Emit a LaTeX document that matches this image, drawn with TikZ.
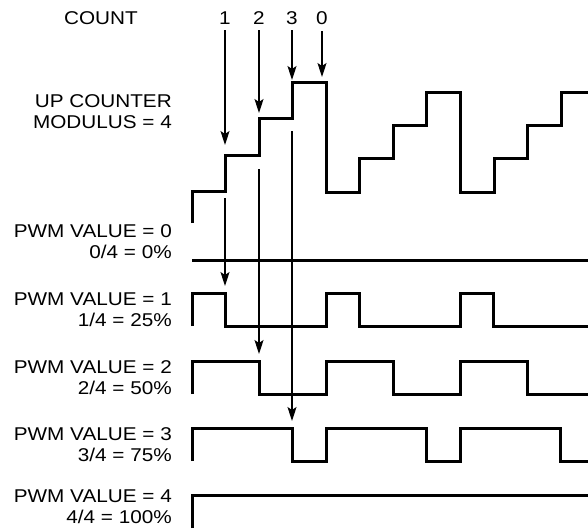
\documentclass[tikz,border=0pt]{standalone}
\usepackage{fontspec}
\setmainfont{Liberation Sans}[FakeStretch=1.12]
\usetikzlibrary{arrows.meta}
\tikzset{
  wave/.style={line width=3pt},
  cntarrow/.style={line width=1.3pt, -{Stealth[length=14pt,width=9pt,inset=3pt]}},
  lbl/.style={anchor=base east, align=right, inner sep=0pt, font=\fontsize{18.5}{21}\selectfont},
  cnt/.style={anchor=base, inner sep=0pt, font=\fontsize{18.5}{21}\selectfont},
}
\begin{document}
\begin{tikzpicture}[x=1pt,y=-1pt]
    \useasboundingbox (0,0) rectangle (588,528);
    % Labels on the left
    \node[cnt] (count) at (101,24) {COUNT};
    \node[lbl] (upcnt) at (172,128) {UP COUNTER\\MODULUS = 4};
    \node[lbl] (pwm0) at (172,258) {PWM VALUE = 0\\0/4 = 0\%};
    \node[lbl] (pwm1) at (172,326) {PWM VALUE = 1\\1/4 = 25\%};
    \node[lbl] (pwm2) at (172,394) {PWM VALUE = 2\\2/4 = 50\%};
    \node[lbl] (pwm3) at (172,461) {PWM VALUE = 3\\3/4 = 75\%};
    \node[lbl] (pwm4) at (172,523) {PWM VALUE = 4\\4/4 = 100\%};
    % Count values
    \node[cnt] (c1) at (225,24) {1};
    \node[cnt] (c2) at (259,24) {2};
    \node[cnt] (c3) at (292,24) {3};
    \node[cnt] (c0) at (322,24) {0};
    % Up counter staircase
    \draw[wave] (192,223) -- (192,191) -- (225,191) -- (225,155) -- (259,155)
        -- (259,118) -- (292,118) -- (292,82) -- (326,82) -- (326,192)
        -- (359,192) -- (359,158) -- (393,158) -- (393,125) -- (426,125)
        -- (426,92) -- (460,92) -- (460,192) -- (494,192) -- (494,158)
        -- (527,158) -- (527,125) -- (561,125) -- (561,92) -- (588,92);
    % PWM outputs
    \draw[wave] (192,260) -- (588,260);
    \foreach \k/\lo in {1/326, 2/394, 3/461} {
        \draw[wave] (192,\lo)
            \foreach \p in {0,1,2} {
                -- ({192+134*\p},\lo) -- ({192+134*\p},\lo-33)
                -- ({192+134*\p+33.5*\k},\lo-33) -- ({192+134*\p+33.5*\k},\lo)
            } -- (588,\lo);
    }
    \draw[wave] (192,528) -- (192,495) -- (588,495);
    % Count arrows
    \coordinate (t1) at (225,145);
    \coordinate (t2) at (259,113);
    \coordinate (t3) at (292,80);
    \coordinate (t0) at (322,77);
    \draw[cntarrow, shorten <=6pt] (c1.south) -- (t1);
    \draw[cntarrow, shorten <=6pt] (c2.south) -- (t2);
    \draw[cntarrow, shorten <=6pt] (c3.south) -- (t3);
    \draw[cntarrow, shorten <=7pt] (c0.south) -- (t0);
    % Arrows down to the PWM edges
    \coordinate (b1) at (225,198);
    \coordinate (b2) at (259,169);
    \coordinate (b3) at (292,131);
    \coordinate (p1) at (225,286);
    \coordinate (p2) at (259,354);
    \coordinate (p3) at (292,421);
    \draw[cntarrow] (b1) -- (p1);
    \draw[cntarrow] (b2) -- (p2);
    \draw[cntarrow] (b3) -- (p3);
\end{tikzpicture}
\end{document}
